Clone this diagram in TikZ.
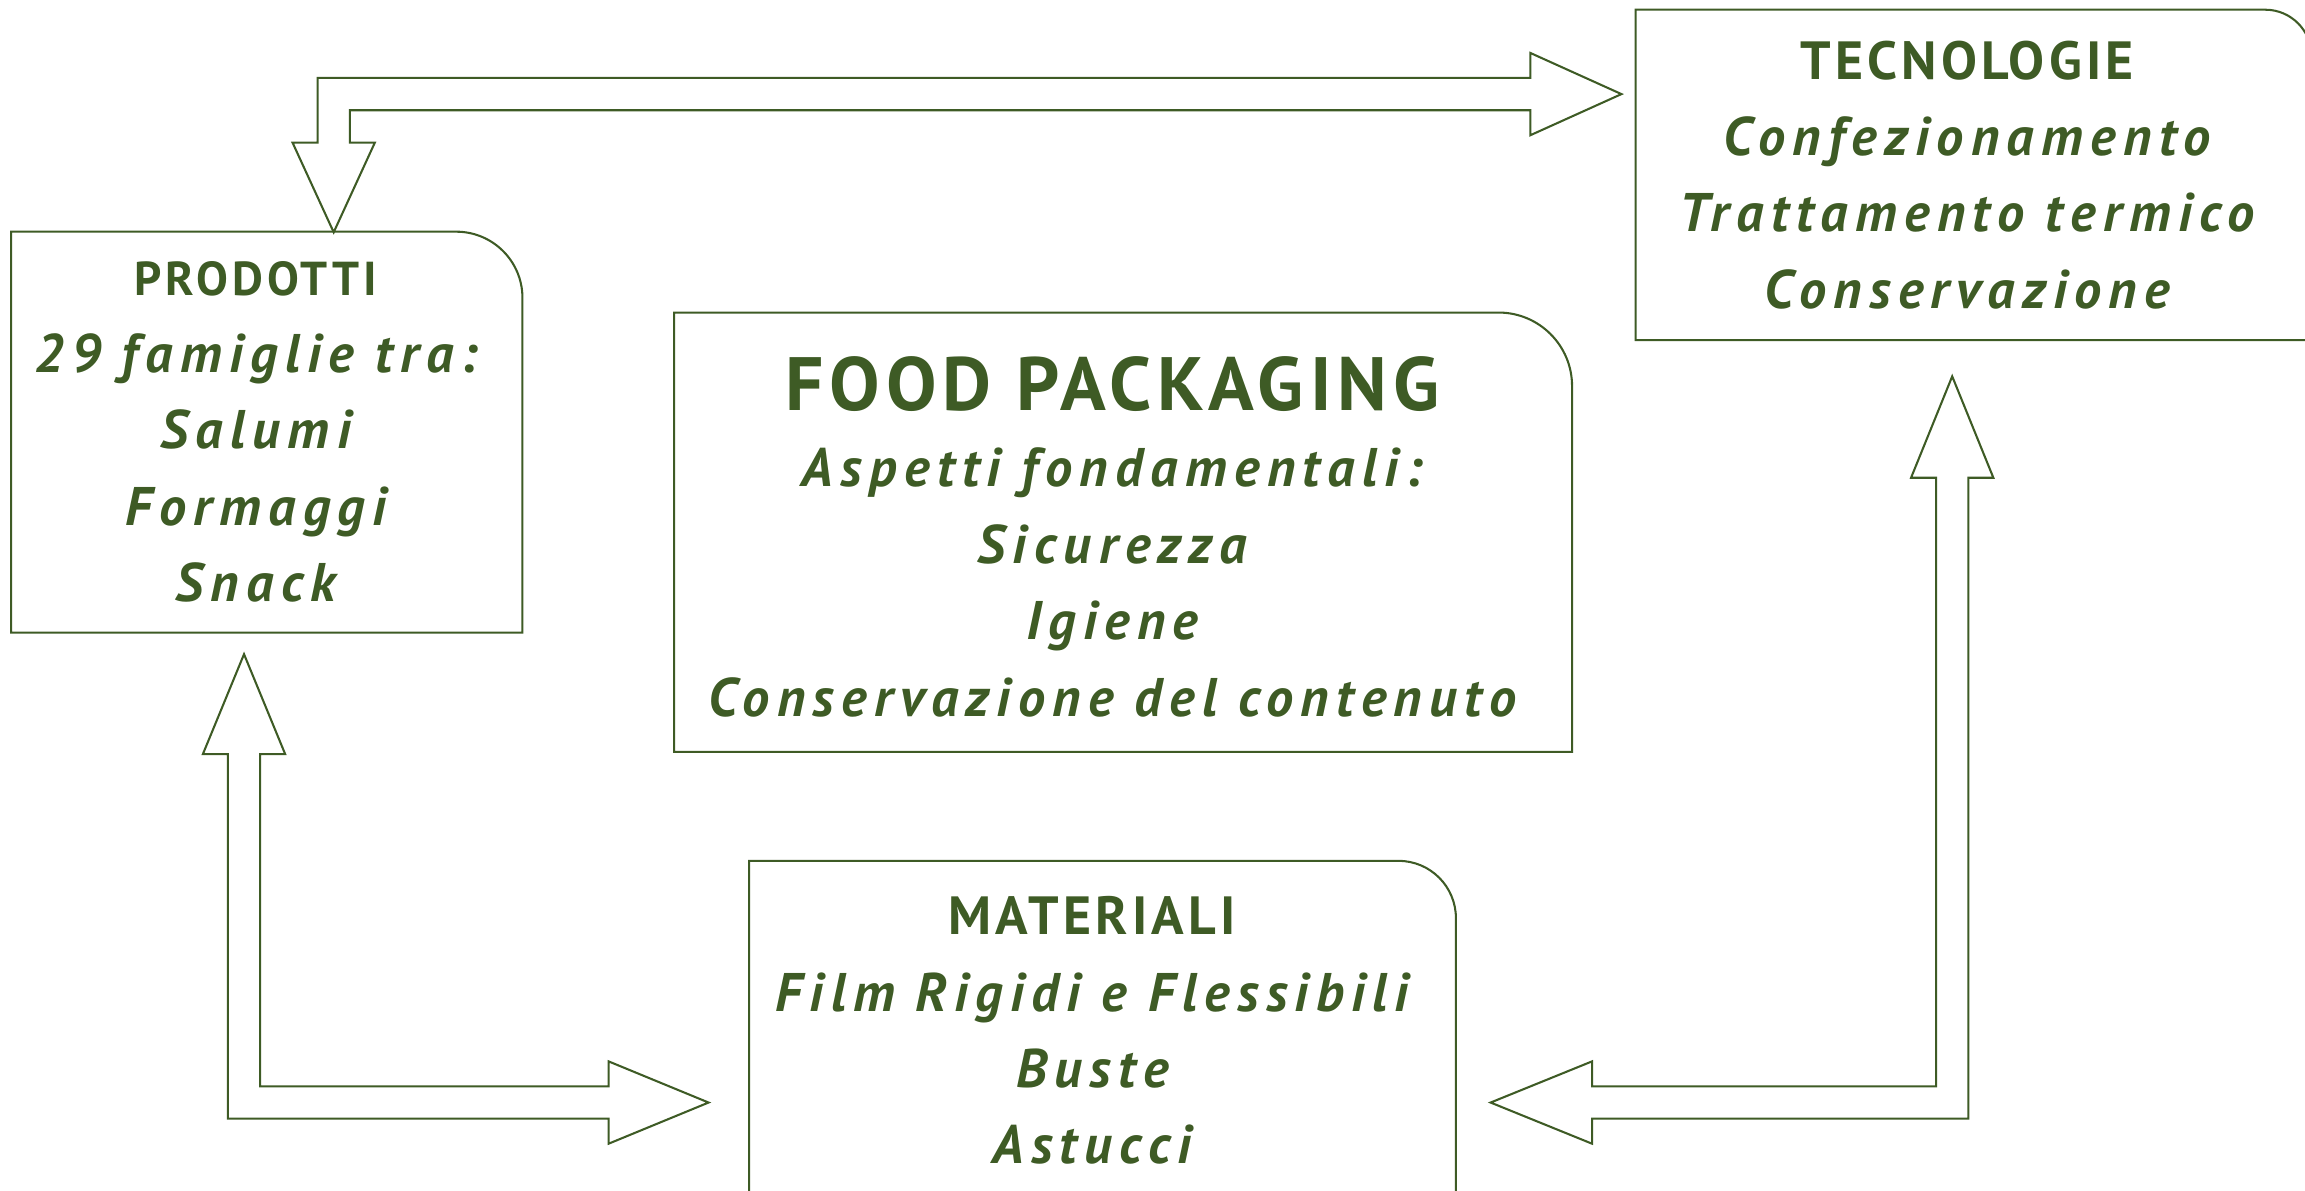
\documentclass[tikz,border=0pt]{standalone}
\usepackage{fontspec}
\setmainfont{PT Sans}[LetterSpace=8]
\newfontfamily\itemfont{PT Sans}[LetterSpace=13.5]
\usetikzlibrary{calc}
\definecolor{leaf}{RGB}{62,91,37}
\tikzset{
  panel/.style = {inner sep=0pt},
  txt/.style = {text=leaf, inner sep=0pt, align=center, font=\itemfont\bfseries\itshape\fontsize{18.5}{26}\selectfont},
  frame/.style = {draw=leaf, line width=0.7pt},
  block/.style = {draw=leaf, line width=0.7pt, fill=white, line join=miter},
}
\newcommand{\boxhead}[2]{{\normalfont\bfseries\fontsize{#1}{26}\selectfont #2}}
% box outline with one rounded corner (top right)
\newcommand{\frameit}[2]{\draw[frame] (#1.south west) -- (#1.north west) -- ([xshift=-#2]#1.north east) arc[start angle=90, end angle=0, radius=#2] -- (#1.south east) -- cycle;}

\begin{document}
\begin{tikzpicture}[x=0.5pt, y=-0.5pt]
    \useasboundingbox (0,0) rectangle (1568,810);

    % the four panels
    \node[panel, minimum width=173.5pt, minimum height=136pt] (prod) at (181.5,294) {};
    \node[panel, minimum width=305pt, minimum height=149pt] (food) at (764,362) {};
    \node[panel, minimum width=229.5pt, minimum height=112pt] (tec) at (1342.5,119) {};
    \node[panel, minimum width=240pt, minimum height=115pt] (mat) at (750,701) {};

    \frameit{prod}{22.5pt}
    \frameit{food}{25pt}
    \frameit{tec}{15.7pt}
    \frameit{mat}{19.5pt}

    \node[txt] (prod-txt) at ([xshift=-3.7pt]prod.center) {\boxhead{16.2}{PRODOTTI} \\ 29 famiglie tra: \\ Salumi \\ Formaggi \\ Snack};
    \node[txt] (food-txt) at ([xshift=-3.7pt, yshift=-1.5pt]food.center) {\boxhead{25.7}{FOOD PACKAGING} \\ Aspetti fondamentali: \\ Sicurezza \\ Igiene \\ Conservazione del contenuto};
    \node[txt] (tec-txt) at ([xshift=-2.2pt]tec.center) {\boxhead{18.3}{TECNOLOGIE} \\ Confezionamento \\ Trattamento termico \\ Conservazione};
    \node[txt] (mat-txt) at ([xshift=-3.5pt]mat.center) {\boxhead{18.3}{MATERIALI} \\ Film Rigidi e Flessibili \\ Buste \\ Astucci};

    % tips of the block arrows
    \coordinate (top-a) at (227,158);
    \coordinate (top-b) at (1103,64);
    \coordinate (left-a) at (166,445);
    \coordinate (left-b) at (482,750);
    \coordinate (right-a) at (1328,256);
    \coordinate (right-b) at (1014,750);

    \draw[block] (top-a) -- ++(-28,-61) -- ++(17,0) |- ($(top-b)+(-62,-11)$) -- ++(0,-17) -- (top-b) -- ++(-62,28) -- ++(0,-17) -| ($(top-a)+(11,-61)$) -- ++(17,0) -- cycle;
    \draw[block] (left-a) -- ++(-28,68) -- ++(17,0) |- ($(left-b)+(-68,11)$) -- ++(0,17) -- (left-b) -- ++(-68,-28) -- ++(0,17) -| ($(left-a)+(11,68)$) -- ++(17,0) -- cycle;
    \draw[block] (right-a) -- ++(-28,69) -- ++(17,0) |- ($(right-b)+(69,-11)$) -- ++(0,-17) -- (right-b) -- ++(69,28) -- ++(0,-17) -| ($(right-a)+(11,69)$) -- ++(17,0) -- cycle;
\end{tikzpicture}
\end{document}
